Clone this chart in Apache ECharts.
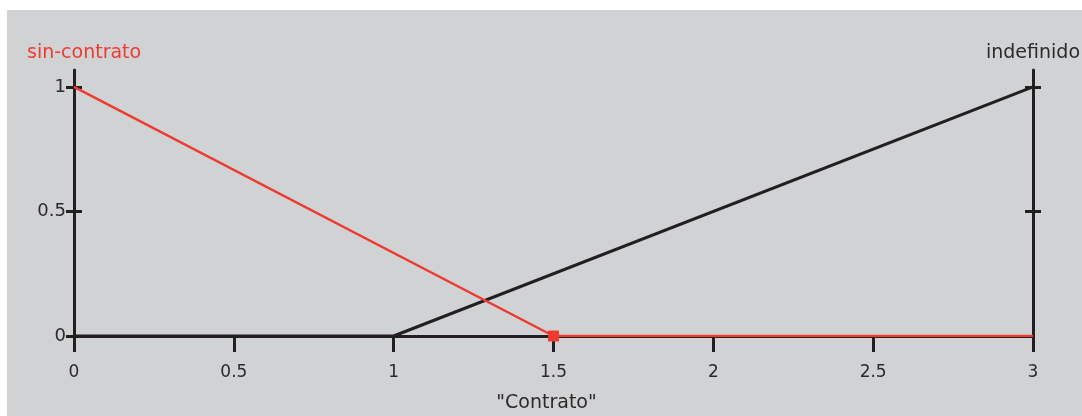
<!DOCTYPE html>
<html>
<head>
<meta charset="utf-8">
<script src="https://cdn.jsdelivr.net/npm/echarts@6/dist/echarts.min.js"></script>
<style>
  html, body { margin: 0; padding: 0; background: #ffffff; }
  #chart { position: absolute; left: 7px; top: 10px; width: 1075px; height: 406px; background: #d1d2d4; }
</style>
</head>
<body>
<div id="chart"></div>
<script>
// ---- data ----
const xTickValues = [0, 0.5, 1, 1.5, 2, 2.5, 3];
const yTickValuesLeft = [0, 0.5, 1];
const yTickValuesRight = [0.5, 1];
const sinContratoX = [0, 1.5, 3];
const sinContratoY = [1, 0, 0];
const indefinidoX = [0, 1, 3];
const indefinidoY = [0, 0, 1];
const markerIndex = 1; // the (1.5, 0) point of sin-contrato carries a square marker
const leftLabel = 'sin-contrato';
const rightLabel = 'indefinido';
const xAxisName = '"Contrato"';

const RED = '#ee3b32';
const DARK = '#231f20';
const TEXT = '#2b2a2a';
const FONT = 'DejaVu Sans';
const Y_MAX = 1.068;

const chart = echarts.init(document.getElementById('chart'), null, { renderer: 'canvas' });

const sinData = sinContratoX.map((x, i) => {
  const item = { value: [x, sinContratoY[i]] };
  if (i === markerIndex) {
    item.symbol = 'rect';
    item.symbolSize = 11;
    item.itemStyle = { color: RED };
  }
  return item;
});
const indData = indefinidoX.map((x, i) => [x, indefinidoY[i]]);

function yAxisBase(gridIndex, pos, showLine, inside, ticks, labels) {
  return {
    type: 'value', gridIndex: gridIndex, position: pos, min: 0, max: Y_MAX, offset: 0,
    axisLine: { show: showLine, onZero: false, lineStyle: { color: DARK, width: 3 } },
    axisTick: { show: true, inside: inside, length: 8, customValues: ticks, lineStyle: { color: DARK, width: 3 } },
    axisLabel: labels ? { show: true, customValues: labels, margin: 8, color: TEXT, fontFamily: FONT, fontSize: 18 } : { show: false },
    splitLine: { show: false }
  };
}

const gridBox = { left: 67, right: 49, top: 60, bottom: 80, containLabel: false, outerBoundsMode: 'none' };

chart.setOption({
  animation: false,
  backgroundColor: 'transparent',
  title: [
    { text: leftLabel, left: 20, top: 34, padding: 0, textStyle: { color: RED, fontFamily: FONT, fontSize: 19, fontWeight: 'normal' } },
    { text: rightLabel, right: 2, top: 34, padding: 0, textStyle: { color: TEXT, fontFamily: FONT, fontSize: 19, fontWeight: 'normal' } }
  ],
  grid: [Object.assign({}, gridBox), Object.assign({}, gridBox)],
  xAxis: [
    {
      type: 'value', gridIndex: 0, min: 0, max: 3, interval: 0.5,
      name: xAxisName, nameLocation: 'middle', nameGap: 58,
      nameTextStyle: { color: TEXT, fontFamily: FONT, fontSize: 19, padding: [0, 14, 0, 0] },
      axisLine: { show: true, onZero: false, lineStyle: { color: DARK, width: 3 } },
      axisTick: { show: true, length: 16, customValues: xTickValues, lineStyle: { color: DARK, width: 3 } },
      axisLabel: { customValues: xTickValues, margin: 28, color: TEXT, fontFamily: FONT, fontSize: 17 },
      splitLine: { show: false }
    },
    {
      type: 'value', gridIndex: 1, min: 0, max: 3, show: false
    }
  ],
  yAxis: [
    yAxisBase(0, 'left', true, false, yTickValuesLeft, yTickValuesLeft),
    yAxisBase(0, 'right', true, false, yTickValuesRight, null),
    yAxisBase(1, 'left', false, true, yTickValuesLeft, null),
    yAxisBase(1, 'right', false, true, yTickValuesRight, null)
  ],
  series: [
    {
      name: rightLabel, type: 'line', xAxisIndex: 0, yAxisIndex: 0, data: indData,
      symbol: 'none', lineStyle: { color: DARK, width: 3 }, z: 3
    },
    {
      name: leftLabel, type: 'line', xAxisIndex: 0, yAxisIndex: 0, data: sinData,
      symbol: 'none', showSymbol: true, lineStyle: { color: RED, width: 2.5 }, itemStyle: { color: RED }, z: 4
    }
  ]
});
</script>
</body>
</html>
